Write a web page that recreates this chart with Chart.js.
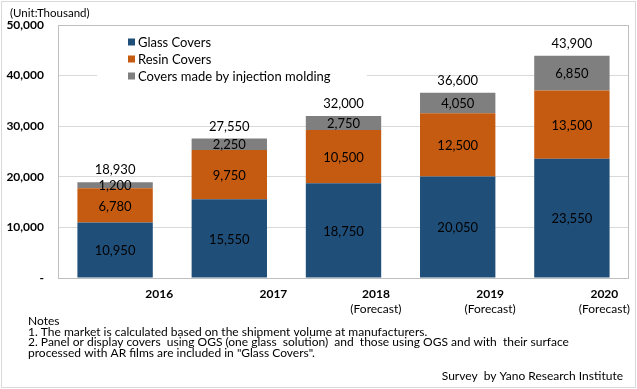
<!DOCTYPE html>
<html>
<head>
<meta charset="utf-8">
<script src="https://cdn.jsdelivr.net/npm/chart.js@4"></script>
<style>
  body { margin: 0; background: #fff; }
</style>
</head>
<body>
<canvas id="myChart" width="637" height="389"></canvas>
<script>
var xValues = ["2016", "2017", "2018", "2019", "2020"];
var xSubLabels = ["", "", "(Forecast)", "(Forecast)", "(Forecast)"];
var glassCovers = [10950, 15550, 18750, 20050, 23550];
var resinCovers = [6780, 9750, 10500, 12500, 13500];
var moldedCovers = [1200, 2250, 2750, 4050, 6850];
var totals = [18930, 27550, 32000, 36600, 43900];
var yTicks = [0, 10000, 20000, 30000, 40000, 50000];
var seriesNames = ["Glass Covers", "Resin Covers", "Covers made by injection molding"];
var barColors = ["#1F4E79", "#C55A11", "#7F7F7F"];

var notes = [
  "Notes",
  "1. The market is calculated based on the shipment volume at manufacturers.",
  "2. Panel or display covers  using OGS (one glass  solution)  and  those using OGS and with  their surface",
  'processed with AR films are included in "Glass Covers".'
];

var FONT = "Lato, 'Liberation Sans', sans-serif";
Chart.defaults.font.family = FONT;
Chart.defaults.color = "#000";

function fmt(v) {
  return v.toLocaleString("en-US");
}

// frame, data labels, legend, notes
var decorations = {
  id: "decorations",
  beforeDraw: function (chart) {
    var ctx = chart.ctx;
    ctx.save();
    ctx.fillStyle = "#fff";
    ctx.fillRect(0, 0, chart.width, chart.height);
    ctx.strokeStyle = "#d9d9d9";
    ctx.lineWidth = 1;
    ctx.strokeRect(1.5, 1.5, chart.width - 3, chart.height - 3);
    ctx.restore();
  },
  beforeDatasetsDraw: function (chart) {
    var a = chart.chartArea, ctx = chart.ctx;
    ctx.save();
    ctx.strokeStyle = "#bfbfbf";
    ctx.lineWidth = 1;
    ctx.strokeRect(a.left + 0.5, a.top + 0.5, a.right - a.left - 1, a.bottom - a.top);
    ctx.restore();
  },
  afterDraw: function (chart) {
    var a = chart.chartArea, ctx = chart.ctx;
    ctx.save();
    ctx.textAlign = "center";
    ctx.textBaseline = "middle";
    ctx.fillStyle = "#000";

    // values inside the segments
    ctx.font = "13px " + FONT;
    chart.data.datasets.forEach(function (ds, i) {
      chart.getDatasetMeta(i).data.forEach(function (bar, j) {
        ctx.fillText(fmt(ds.data[j]), bar.x, (bar.y + bar.base) / 2 + 1);
      });
    });

    // totals above the bars
    var last = chart.getDatasetMeta(chart.data.datasets.length - 1).data;
    last.forEach(function (bar, j) {
      ctx.fillText(fmt(totals[j]), bar.x, bar.y - 12);
    });

    // category labels (right-aligned block, lines centred as in Excel)
    var xs = chart.scales.x;
    xValues.forEach(function (year, i) {
      var px = xs.getPixelForValue(i);
      ctx.font = "bold 12px " + FONT;
      var w1 = ctx.measureText(year).width;
      ctx.font = "12px " + FONT;
      var w2 = xSubLabels[i] ? ctx.measureText(xSubLabels[i]).width : 0;
      var blockW = Math.max(w1, w2);
      var cx = px + 58 - blockW / 2;
      ctx.font = "bold 12px " + FONT;
      ctx.fillText(year, cx, a.bottom + 16);
      if (xSubLabels[i]) {
        ctx.font = "12px " + FONT;
        ctx.fillText(xSubLabels[i], cx, a.bottom + 31);
      }
    });

    // legend box
    ctx.fillStyle = "#fff";
    ctx.fillRect(a.left + 39, a.top + 5, 270, 62);
    ctx.textAlign = "left";
    ctx.font = "13px " + FONT;
    chart.data.datasets.forEach(function (ds, i) {
      var y = a.top + 17 + i * 17;
      ctx.fillStyle = ds.backgroundColor;
      ctx.fillRect(a.left + 70, y - 3.5, 7, 7);
      ctx.fillStyle = "#000";
      ctx.fillText(ds.label, a.left + 80, y + 1);
    });

    // unit
    ctx.font = "11.5px " + FONT;
    ctx.fillText("(Unit:Thousand)", 10, 13);

    // notes
    ctx.font = "12px " + FONT;
    notes.forEach(function (line, i) {
      ctx.fillText(line, 28, 321 + i * 10.7);
    });
    ctx.textAlign = "right";
    ctx.fillText("Survey  by Yano Research Institute", 623, 376);
    ctx.restore();
  }
};

new Chart("myChart", {
  type: "bar",
  data: {
    labels: xValues,
    datasets: [
      { label: seriesNames[0], data: glassCovers, backgroundColor: barColors[0] },
      { label: seriesNames[1], data: resinCovers, backgroundColor: barColors[1] },
      { label: seriesNames[2], data: moldedCovers, backgroundColor: barColors[2] }
    ]
  },
  options: {
    responsive: false,
    animation: false,
    layout: { padding: { left: 0, top: 25, right: 8, bottom: 111 } },
    datasets: {
      bar: { categoryPercentage: 1, barPercentage: 0.66 }
    },
    scales: {
      x: {
        stacked: true,
        display: false
      },
      y: {
        stacked: true,
        min: 0,
        max: 50000,
        afterBuildTicks: function (scale) {
          scale.ticks = yTicks.map(function (v) { return { value: v }; });
        },
        afterFit: function (scale) { scale.width = 58; },
        border: { display: false },
        grid: { color: "#d9d9d9", drawTicks: false },
        ticks: {
          padding: 14,
          font: { size: 12, weight: "bold" },
          callback: function (v) { return v === 0 ? "-" : fmt(v); }
        }
      }
    },
    plugins: {
      legend: { display: false },
      tooltip: { enabled: false }
    }
  },
  plugins: [decorations]
});
</script>
</body>
</html>
